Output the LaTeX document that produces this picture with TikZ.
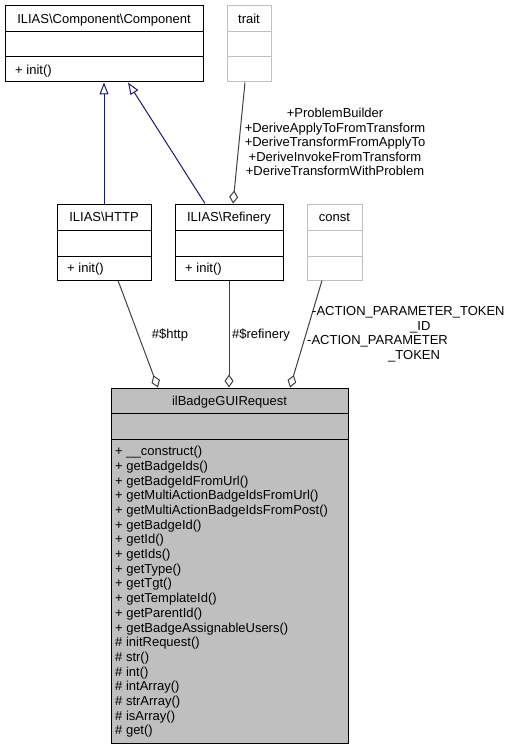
\documentclass[tikz,border=0pt]{standalone}
\usepackage{fontspec}
\setmainfont{Liberation Sans}
\usetikzlibrary{arrows.meta}
\definecolor{edgegray}{HTML}{404040}
\definecolor{inhblue}{HTML}{191970}
\definecolor{boxgray}{HTML}{BFBFBF}
\begin{document}
\begin{tikzpicture}[x=1pt,y=-1pt,
  every node/.style={font=\fontsize{13}{14.4}\selectfont, inner sep=0pt, text height=9.3pt, text depth=0pt},
  clsbox/.style={draw=black, line width=1pt},
  greybox/.style={draw=boxgray, line width=1pt},
  sep/.style={line width=1pt},
  inh/.style={draw=inhblue, line width=1pt, -{Triangle[open,length=12pt,width=9pt]}},
  aggr/.style={draw=edgegray, line width=1pt, {Diamond[open,length=13pt,width=9pt]}-},
  lbl/.style={text=black}]
\useasboundingbox (0,0) rectangle (523,749);

% ILIAS\Component\Component
\node[clsbox, minimum width=198pt, minimum height=76pt] (comp) at (104,44) {};
\draw[sep] (5,32) -- (203,32);
\draw[sep] (5,57) -- (203,57);
\node (compt) at (104,19) {ILIAS\textbackslash Component\textbackslash Component};
\node[anchor=west] (compm) at (15,69.5) {+ init()};

% trait
\node[greybox, minimum width=44pt, minimum height=76pt] (trait) at (249,44) {};
\draw[sep, boxgray] (227,32) -- (271,32);
\draw[sep, boxgray] (227,57) -- (271,57);
\node (traitt) at (249,19) {trait};

% ILIAS\HTTP
\node[clsbox, minimum width=94pt, minimum height=76pt] (http) at (104,242) {};
\draw[sep] (57,230) -- (151,230);
\draw[sep] (57,256) -- (151,256);
\node (httpt) at (104,217) {ILIAS\textbackslash HTTP};
\node[anchor=west] (httpm) at (67,268) {+ init()};

% ILIAS\Refinery
\node[clsbox, minimum width=108pt, minimum height=76pt] (ref) at (229,242) {};
\draw[sep] (175,230) -- (283,230);
\draw[sep] (175,256) -- (283,256);
\node (reft) at (229,217) {ILIAS\textbackslash Refinery};
\node[anchor=west] (refm) at (185,268) {+ init()};

% const
\node[greybox, minimum width=55pt, minimum height=76pt] (const) at (334.5,242) {};
\draw[sep, boxgray] (307,230) -- (362,230);
\draw[sep, boxgray] (307,256) -- (362,256);
\node (constt) at (334.5,217) {const};

% ilBadgeGUIRequest
\node[clsbox, fill=boxgray, minimum width=237pt, minimum height=355pt] (main) at (229.5,565.5) {};
\draw[sep] (111,413) -- (348,413);
\draw[sep] (111,439) -- (348,439);
\node (maint) at (229.5,401) {ilBadgeGUIRequest};
\foreach \m [count=\i] in {%
  {+ \_\_construct()},
  {+ getBadgeIds()},
  {+ getBadgeIdFromUrl()},
  {+ getMultiActionBadgeIdsFromUrl()},
  {+ getMultiActionBadgeIdsFromPost()},
  {+ getBadgeId()},
  {+ getId()},
  {+ getIds()},
  {+ getType()},
  {+ getTgt()},
  {+ getTemplateId()},
  {+ getParentId()},
  {+ getBadgeAssignableUsers()},
  {\# initRequest()},
  {\# str()},
  {\# int()},
  {\# intArray()},
  {\# strArray()},
  {\# isArray()},
  {\# get()}}
  \node[anchor=west] (mm\i) at (115,{451+14.7*(\i-1)}) {\m};

% inheritance
\draw[inh] (http.north) -- (comp.south);
\draw[inh] ([xshift=-24pt]ref.north) -- ([xshift=24pt]comp.south);

% trait -> Refinery
\draw[aggr] ([xshift=4pt]ref.north) -- ([xshift=-4pt]trait.south);
\foreach \t [count=\i] in {+ProblemBuilder,+DeriveApplyToFromTransform,+DeriveTransformFromApplyTo,+DeriveInvokeFromTransform,+DeriveTransformWithProblem}
  \node[lbl] (tl\i) at (335,{113+14.5*(\i-1)}) {\t};

% members of ilBadgeGUIRequest
\draw[aggr] ([xshift=-71.5pt]main.north) -- ([xshift=14pt]http.south);
\node[lbl] (lhttp) at (170,334) {\#\$http};
\draw[aggr] (ref.south |- main.north) -- (ref.south);
\node[lbl] (lref) at (261,334) {\#\$refinery};
\draw[aggr] ([xshift=60.5pt]main.north) -- ([xshift=-12.5pt]const.south);
\node[lbl, anchor=west] (lc1) at (312,311) {-ACTION\_PARAMETER\_TOKEN};
\node[lbl, anchor=west] (lc2) at (410,325.5) {\_ID};
\node[lbl, anchor=west] (lc3) at (307,340) {-ACTION\_PARAMETER};
\node[lbl, anchor=west] (lc4) at (388,354.5) {\_TOKEN};
\end{tikzpicture}
\end{document}
